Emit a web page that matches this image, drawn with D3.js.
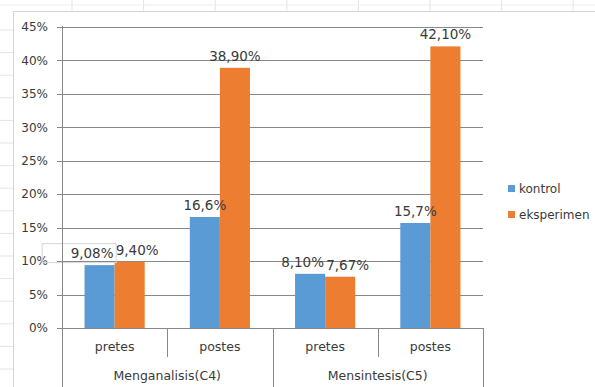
<!DOCTYPE html>
<html>
<head>
<meta charset="utf-8">
<script src="https://cdn.jsdelivr.net/npm/d3@7"></script>
<style>
  body { margin: 0; background: #fff; }
  svg { display: block; font-family: "DejaVu Sans", sans-serif; }
</style>
</head>
<body>
<svg id="chart"></svg>
<script>
// data (bar heights in %, labels as printed)
const groups = ["Menganalisis(C4)", "Mensintesis(C5)"];
const phases = ["pretes", "postes"];
const seriesNames = ["kontrol", "eksperimen"];
const kontrol = [9.4, 16.6, 8.1, 15.7];
const eksperimen = [9.9, 38.9, 7.67, 42.1];
const kontrolLabels = ["9,08%", "16,6%", "8,10%", "15,7%"];
const eksperimenLabels = ["9,40%", "38,90%", "7,67%", "42,10%"];
const yTicks = [0, 5, 10, 15, 20, 25, 30, 35, 40, 45];

const W = 595, H = 387;
const margin = {top: 27, right: 112, bottom: 59, left: 62};
const colors = {kontrol: "#5B9BD5", eksperimen: "#ED7D31"};
const textCol = "#3a3a3a";

const svg = d3.select("#chart").attr("width", W).attr("height", H);
svg.append("rect").attr("width", W).attr("height", H).attr("fill", "#fff");

// faint spreadsheet cells behind the chart
const cellX = d3.range(72, W, 71.6);
svg.selectAll(".cellv").data(cellX).join("line")
  .attr("x1", d => d).attr("x2", d => d).attr("y1", 0).attr("y2", 11)
  .attr("stroke", "#e4e4e4");
svg.append("line").attr("x1", 0).attr("x2", W).attr("y1", 5).attr("y2", 5).attr("stroke", "#eeeeee");
const cellY = d3.range(30, H, 22.6);
svg.selectAll(".cellh").data(cellY).join("line")
  .attr("x1", 0).attr("x2", 13).attr("y1", d => d).attr("y2", d => d)
  .attr("stroke", "#e4e4e4");

// chart area border
svg.append("line").attr("x1", 13).attr("x2", W).attr("y1", 11.5).attr("y2", 11.5).attr("stroke", "#d4d4d4");
svg.append("line").attr("x1", 13.5).attr("x2", 13.5).attr("y1", 11).attr("y2", H).attr("stroke", "#d4d4d4");

const x0 = margin.left, x1 = W - margin.right;
const yScale = d3.scaleLinear().domain([0, 45]).range([H - margin.bottom, margin.top]);

const slots = [];
groups.forEach((g, gi) => phases.forEach((p, pi) => slots.push({group: g, phase: p, i: gi * phases.length + pi})));

const xSlot = d3.scaleBand().domain(slots.map(d => d.i)).range([x0, x1]);
const xSeries = d3.scaleBand().domain(seriesNames).range([0, xSlot.bandwidth()]).paddingOuter(0.75);

// gridlines with little ticks left of the axis
svg.append("g").selectAll("line").data(yTicks).join("line")
  .attr("x1", x0 - 5).attr("x2", x1)
  .attr("y1", d => Math.round(yScale(d)) + 0.5).attr("y2", d => Math.round(yScale(d)) + 0.5)
  .attr("stroke", "#888888");

svg.append("g").selectAll("text").data(yTicks).join("text")
  .attr("x", 48).attr("y", d => yScale(d)).attr("dy", "0.35em")
  .attr("text-anchor", "end").attr("font-size", 12).attr("fill", textCol)
  .text(d => d + "%");

// bars
const values = {kontrol, eksperimen};
const labels = {kontrol: kontrolLabels, eksperimen: eksperimenLabels};
const barData = [];
slots.forEach(s => seriesNames.forEach(k => barData.push({slot: s.i, key: k, v: values[k][s.i], label: labels[k][s.i]})));

svg.append("g").selectAll("rect").data(barData).join("rect")
  .attr("x", d => xSlot(d.slot) + xSeries(d.key))
  .attr("width", xSeries.bandwidth())
  .attr("y", d => yScale(d.v))
  .attr("height", d => yScale(0) - yScale(d.v))
  .attr("fill", d => colors[d.key]);

// value labels, pushed apart when a pair would collide
const lab = svg.append("g").selectAll("text").data(barData).join("text")
  .attr("x", d => xSlot(d.slot) + xSeries(d.key) + xSeries.bandwidth() / 2)
  .attr("y", d => yScale(d.v) - 7)
  .attr("text-anchor", "middle").attr("font-size", 13.5).attr("fill", textCol)
  .text(d => d.label);

const nodes = lab.nodes();
for (let i = 0; i < nodes.length; i += 2) {
  const a = nodes[i].getBBox(), b = nodes[i + 1].getBBox();
  const overlap = a.x + a.width + 2 - b.x;
  if (overlap > 0 && Math.abs(a.y - b.y) < a.height) {
    d3.select(nodes[i]).attr("x", +nodes[i].getAttribute("x") - overlap / 2);
    d3.select(nodes[i + 1]).attr("x", +nodes[i + 1].getAttribute("x") + overlap / 2);
  }
}
// stray text-box frame around the first label
const fb = nodes[0].getBBox();
svg.append("rect").attr("x", fb.x - 28.5).attr("y", fb.y - 1.5)
  .attr("width", fb.width + 31).attr("height", fb.height + 3)
  .attr("fill", "none").attr("stroke", "#d6d6d6");

// category axis, two levels
const yBase = yScale(0);
const ax = svg.append("g").attr("stroke", "#888888");
ax.append("line").attr("x1", x0 + 0.5).attr("x2", x0 + 0.5).attr("y1", margin.top - 1).attr("y2", H);
slots.forEach(s => {
  const xr = Math.round(xSlot(s.i) + xSlot.bandwidth()) + 0.5;
  const last = (s.i + 1) % phases.length === 0;
  ax.append("line").attr("x1", xr).attr("x2", xr).attr("y1", yBase).attr("y2", last ? H : yBase + 29);
});

svg.append("g").selectAll("text").data(slots).join("text")
  .attr("x", d => xSlot(d.i) + xSlot.bandwidth() / 2).attr("y", yBase + 23)
  .attr("text-anchor", "middle").attr("font-size", 12.5).attr("fill", textCol)
  .text(d => d.phase);

svg.append("g").selectAll("text").data(groups).join("text")
  .attr("x", (d, gi) => xSlot(gi * phases.length) + xSlot.bandwidth())
  .attr("y", yBase + 52)
  .attr("text-anchor", "middle").attr("font-size", 12.5).attr("fill", textCol)
  .text(d => d);

// legend
const leg = svg.append("g").selectAll("g").data(seriesNames).join("g")
  .attr("transform", (d, i) => `translate(508, ${189 + i * 26})`);
leg.append("rect").attr("x", 0).attr("y", -4).attr("width", 7).attr("height", 7).attr("fill", d => colors[d]);
leg.append("text").attr("x", 11).attr("dy", "0.35em").attr("font-size", 12).attr("fill", textCol).text(d => d);
</script>
</body>
</html>
